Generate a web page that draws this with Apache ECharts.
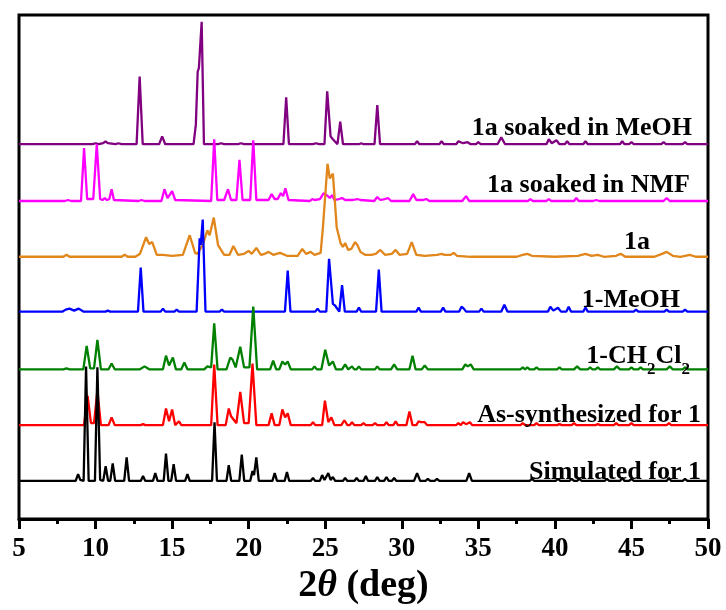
<!DOCTYPE html>
<html>
<head>
<meta charset="utf-8">
<script src="https://cdn.jsdelivr.net/npm/echarts@6/dist/echarts.min.js"></script>
<style>
html,body{margin:0;padding:0;background:#fff;}
#chart{width:726px;height:610px;}
</style>
</head>
<body>
<div id="chart"></div>
<script>
// x tick labels (2θ, deg)
const xTicks = [5, 10, 15, 20, 25, 30, 35, 40, 45, 50];

// series names (top to bottom)
const seriesNames = ['1a soaked in MeOH', '1a soaked in NMF', '1a', '1-MeOH', '1-CH2Cl2', 'As-synthesized for 1', 'Simulated for 1'];
const seriesColors = ['#800080', '#FF00FF', '#E0861B', '#0000FF', '#008000', '#FF0000', '#000000'];
// vertical offset of each pattern's baseline (same intensity units as the data)
const offsets = [383, 325, 268, 212, 153, 96, 39];

// [2θ, intensity above baseline]
const soakedMeOH = [[5,0],[9.8,0],[10.0,1],[10.2,0],[10.5,1],[10.65,3],[10.8,1],[11.3,0],[11.5,1],[11.7,0],[12.68,0],[12.88,69],[13.08,0],[14.15,0],[14.35,8],[14.55,0],[16.4,0],[16.55,20],[16.67,74],[16.75,78],[16.93,125],[17.08,0],[18.0,0],[18.2,1],[18.4,0],[19.3,0],[19.5,1],[19.7,0],[22.27,0],[22.45,48],[22.63,0],[24.2,0],[24.4,1],[24.6,0],[24.95,0],[25.13,54],[25.35,8],[25.5,5],[25.8,0],[25.98,23],[26.16,0],[27.2,0],[27.35,1],[27.5,0],[28.22,0],[28.4,40],[28.58,0],[30.85,0],[31.0,3],[31.15,0],[32.45,0],[32.6,3],[32.75,0],[33.55,0],[33.7,3],[33.8,4],[34.0,1],[34.3,2],[34.5,0],[34.85,0],[35.0,2],[35.15,0],[36.25,0],[36.5,7],[36.75,0],[39.45,0],[39.6,5],[39.8,1],[40.1,4],[40.3,0],[40.65,0],[40.8,3],[40.95,0],[41.85,0],[42.0,3],[42.15,0],[44.25,0],[44.4,3],[44.55,0],[44.85,0],[45.0,2],[45.15,0],[46.95,0],[47.1,2],[47.25,0],[48.35,0],[48.5,2],[48.65,0],[50,0]];

const soakedNMF = [[5,0],[8.0,0],[8.2,1],[8.4,0],[9.05,0],[9.25,54],[9.45,2],[9.85,2],[10.08,58],[10.3,2],[10.45,1],[10.6,3],[10.75,1],[10.9,2],[11.05,12],[11.2,1],[12.8,0],[13.0,1],[13.2,0],[14.3,0],[14.5,12],[14.7,3],[15.0,10],[15.2,1],[17.55,0],[17.75,63],[17.95,1],[18.4,1],[18.65,12],[18.85,1],[19.2,1],[19.4,42],[19.6,1],[20.1,1],[20.3,62],[20.5,1],[21.3,1],[21.5,7],[21.7,2],[21.9,2],[22.1,8],[22.25,5],[22.4,13],[22.6,1],[24.0,0],[24.15,2],[24.3,1],[24.65,2],[24.9,8],[25.1,6],[25.3,3],[25.45,6],[25.6,1],[25.9,2],[26.1,3],[26.3,1],[26.8,1],[27.1,2],[27.3,1],[28.2,0],[28.4,4],[28.6,1],[28.9,2],[29.1,3],[29.3,0],[30.5,0],[30.75,7],[30.95,1],[31.4,1],[31.6,2],[31.8,0],[33.95,0],[34.2,5],[34.4,0],[38.25,0],[38.4,2],[38.55,0],[39.45,0],[39.6,2],[39.75,0],[41.25,0],[41.4,3],[41.55,0],[42.5,0],[42.7,1],[42.9,0],[47.1,0],[47.3,3],[47.5,0],[50,0]];

const activated1a = [[5,0],[7.9,0],[8.1,2],[8.3,0],[11.7,0],[11.9,2],[12.1,0],[12.6,0],[12.9,3],[13.3,20],[13.5,13],[13.7,15],[14.0,2],[14.4,2],[15.0,1],[15.7,2],[16.15,22],[16.5,4],[16.65,3],[17.0,12],[17.3,27],[17.45,22],[17.72,40],[18.0,12],[18.4,2],[18.75,2],[19.0,11],[19.3,2],[19.7,3],[20.0,6],[20.2,3],[20.5,9],[20.8,2],[21.05,3],[21.3,5],[21.6,2],[22.05,4],[22.5,1],[23.2,1],[23.5,8],[23.75,3],[24.05,5],[24.3,2],[24.7,4],[24.85,30],[25.15,95],[25.3,80],[25.5,85],[25.75,30],[26.0,14],[26.15,10],[26.3,14],[26.5,7],[26.7,8],[26.95,15],[27.1,12],[27.3,5],[27.6,2],[28.0,2],[28.3,3],[28.6,7],[28.9,2],[29.35,3],[29.6,7],[29.85,2],[30.35,3],[30.65,15],[30.95,2],[31.5,1],[32.3,2],[32.6,3],[32.8,2],[33.2,2],[33.4,4],[33.6,1],[34.5,0],[37.5,0],[37.9,2],[38.2,3],[38.5,1],[40.0,0],[41.5,1],[42.0,3],[42.4,1],[42.8,2],[43.2,0],[44.0,1],[44.3,3],[44.6,0],[46.5,0],[47.0,3],[47.3,5],[47.7,1],[48.2,0],[48.8,2],[49.2,0],[50,0]];

const meoh1 = [[5,0],[7.85,0],[8.05,2],[8.3,3],[8.6,1],[8.9,3],[9.2,0],[10.65,0],[10.8,1],[10.95,0],[12.77,0],[12.95,45],[13.13,0],[14.25,0],[14.4,3],[14.55,0],[15.15,0],[15.3,2],[15.45,0],[16.6,0],[16.8,75],[16.87,68],[17.0,94],[17.18,0],[18.1,0],[18.25,2],[18.4,0],[22.37,0],[22.55,42],[22.73,0],[24.35,0],[24.5,3],[24.65,0],[25.07,0],[25.25,54],[25.5,8],[25.65,6],[25.92,0],[26.1,27],[26.28,0],[27.05,0],[27.2,4],[27.35,0],[28.32,0],[28.5,43],[28.68,0],[30.95,0],[31.1,4],[31.25,0],[32.55,0],[32.7,4],[32.85,0],[33.75,0],[33.9,5],[34.05,3],[34.2,0],[35.05,0],[35.2,3],[35.35,0],[36.5,0],[36.7,7],[36.9,0],[39.55,0],[39.7,5],[39.9,1],[40.2,4],[40.4,0],[40.75,0],[40.9,5],[41.05,0],[41.85,0],[42.0,4],[42.15,0],[45.15,0],[45.3,2],[45.45,0],[47.15,0],[47.3,2],[47.45,0],[48.35,0],[48.5,2],[48.65,0],[50,0]];

const ch2cl2 = [[5,0],[7.9,0],[8.1,1],[8.3,0],[9.2,0],[9.42,24],[9.65,1],[9.9,1],[10.12,30],[10.35,0],[10.85,0],[11.05,6],[11.25,0],[12.9,0],[13.2,3],[13.5,0],[14.4,0],[14.6,14],[14.8,4],[15.05,12],[15.25,0],[15.6,0],[15.8,7],[16.0,0],[17.1,0],[17.3,3],[17.55,2],[17.75,47],[17.97,0],[18.55,0],[18.8,12],[18.95,10],[19.15,2],[19.45,23],[19.7,2],[20.05,2],[20.3,64],[20.55,0],[21.4,0],[21.6,9],[21.8,0],[22.0,0],[22.2,8],[22.38,5],[22.55,8],[22.75,0],[24.15,0],[24.3,3],[24.45,0],[24.75,0],[25.0,20],[25.25,4],[25.5,8],[25.7,0],[26.1,0],[26.3,5],[26.5,0],[26.6,0],[26.75,3],[26.9,0],[27.05,0],[27.2,3],[27.35,0],[28.25,0],[28.4,3],[28.55,0],[29.3,0],[29.5,5],[29.7,0],[30.5,0],[30.7,14],[30.9,0],[31.3,0],[31.5,4],[31.7,0],[33.95,0],[34.15,5],[34.3,3],[34.5,5],[34.7,0],[37.75,0],[37.9,2],[38.05,0],[38.2,2],[38.35,0],[38.65,0],[38.8,2],[38.95,0],[40.15,0],[40.3,2],[40.45,0],[41.25,0],[41.45,3],[41.65,0],[42.15,0],[42.3,2],[42.45,0],[42.65,0],[42.8,2],[42.95,0],[43.85,0],[44.05,3],[44.25,0],[44.85,0],[45.0,2],[45.15,0],[45.45,0],[45.6,2],[45.75,0],[47.3,0],[47.5,3],[47.7,0],[48.35,0],[48.5,2],[48.65,0],[50,0]];

const asSynth = [[5,0],[9.25,0],[9.48,30],[9.7,2],[9.9,2],[10.12,35],[10.35,0],[10.85,0],[11.05,8],[11.25,0],[12.95,0],[13.1,1],[13.25,0],[14.4,0],[14.6,17],[14.8,4],[15.0,16],[15.2,0],[15.3,0],[15.45,4],[15.6,0],[17.55,0],[17.75,62],[17.97,0],[18.5,0],[18.7,17],[18.85,9],[18.95,10],[19.2,2],[19.45,34],[19.7,2],[20.0,2],[20.25,63],[20.5,0],[21.3,0],[21.5,12],[21.7,0],[22.0,0],[22.2,16],[22.38,8],[22.55,12],[22.75,0],[24.05,0],[24.2,3],[24.35,0],[24.8,0],[24.98,25],[25.2,3],[25.4,8],[25.6,0],[26.05,0],[26.25,5],[26.45,0],[26.6,0],[26.75,3],[26.9,0],[27.35,0],[27.5,2],[27.65,0],[28.1,0],[28.25,2],[28.4,0],[28.85,0],[29.0,3],[29.15,0],[29.45,0],[29.6,4],[29.75,0],[30.3,0],[30.5,14],[30.7,0],[30.95,0],[31.1,4],[31.25,3],[31.5,3],[31.65,0],[33.55,0],[33.7,2],[33.85,0],[33.9,0],[34.0,3],[34.2,1],[34.45,3],[34.6,0],[37.75,0],[37.9,2],[38.05,0],[38.65,0],[38.8,2],[38.95,0],[40.15,0],[40.3,1],[40.45,0],[41.1,0],[41.25,2],[41.4,0],[42.65,0],[42.8,1],[42.95,0],[43.85,0],[44.0,2],[44.15,0],[44.85,0],[45.0,2],[45.15,0],[47.3,0],[47.45,2],[47.6,0],[50,0]];

const simulated = [[5,0],[8.7,0],[8.86,7],[9.0,1],[9.22,0],[9.38,117],[9.55,0],[9.96,0],[10.12,116],[10.3,1],[10.5,0],[10.66,15],[10.82,0],[10.96,0],[11.12,18],[11.28,0],[11.87,0],[12.03,24],[12.19,0],[12.95,0],[13.1,5],[13.25,0],[13.75,0],[13.9,8],[14.05,0],[14.45,0],[14.6,28],[14.76,0],[14.94,0],[15.1,17],[15.26,0],[15.85,0],[16.0,7],[16.15,0],[16.9,0],[17.0,2],[17.1,0],[17.61,0],[17.77,60],[17.93,0],[18.55,0],[18.7,16],[18.86,0],[19.39,0],[19.55,27],[19.71,0],[20.1,0],[20.25,10],[20.35,6],[20.5,24],[20.66,0],[21.55,0],[21.7,8],[21.85,0],[22.35,0],[22.5,9],[22.65,0],[24.05,0],[24.2,3],[24.35,0],[24.65,0],[24.8,6],[24.95,1],[25.2,8],[25.35,1],[25.5,4],[25.65,0],[26.15,0],[26.3,3],[26.45,0],[26.9,0],[27.05,3],[27.2,0],[27.5,0],[27.65,5],[27.8,0],[28.25,0],[28.4,4],[28.55,0],[28.85,0],[29.0,4],[29.15,0],[29.35,0],[29.5,3],[29.65,0],[30.8,0],[31.0,8],[31.2,0],[31.55,0],[31.7,2],[31.85,0],[32.15,0],[32.3,2],[32.45,0],[34.22,0],[34.4,8],[34.58,0],[38.35,0],[38.5,2],[38.65,0],[40.05,0],[40.2,2],[40.35,0],[40.95,0],[41.1,2],[41.25,0],[41.45,0],[41.6,2],[41.75,0],[43.25,0],[43.4,2],[43.55,0],[44.25,0],[44.4,3],[44.55,0],[44.85,0],[45.0,2],[45.15,0],[47.3,0],[47.45,3],[47.6,0],[48.35,0],[48.5,2],[48.65,0],[50,0]];

const patterns = [soakedMeOH, soakedNMF, activated1a, meoh1, ch2cl2, asSynth, simulated];

// ---------- build chart ----------
const FONT = '"Liberation Serif", "Times New Roman", serif';
const chart = echarts.init(document.getElementById('chart'), null, {renderer: 'canvas'});

const series = patterns.map((pts, i) => ({
  name: seriesNames[i],
  type: 'line',
  data: pts.map(p => [p[0], p[1] + offsets[i]]),
  showSymbol: false,
  symbol: 'none',
  lineStyle: {color: seriesColors[i], width: 2.3},
  itemStyle: {color: seriesColors[i]},
  z: 2 + i,
  animation: false
}));

// label positions (pixel layout)
const labelLayout = [
  {x: 692, y: 128}, {x: 690, y: 185}, {x: 650, y: 242}, {x: 680, y: 300},
  {x: 690, y: 361}, {x: 701, y: 415}, {x: 701, y: 472}
];
const labelFont = 'bold 26px ' + FONT;
const graphics = seriesNames.map((name, i) => {
  if (name === '1-CH2Cl2') {
    return {
      type: 'text', x: labelLayout[i].x, y: labelLayout[i].y, z: 100,
      style: {
        text: '{n|1-CH}{s|2}{n|Cl}{s|2}',
        align: 'right', verticalAlign: 'middle',
        fill: '#000',
        rich: {
          n: {fontFamily: FONT, fontWeight: 'bold', fontSize: 26, fill: '#000', color: '#000', padding: [0, 0, 9, 0], verticalAlign: 'bottom'},
          s: {fontFamily: FONT, fontWeight: 'bold', fontSize: 17, fill: '#000', color: '#000', verticalAlign: 'bottom'}
        }
      }
    };
  }
  return {
    type: 'text', x: labelLayout[i].x, y: labelLayout[i].y, z: 100,
    style: {text: name, font: labelFont, fill: '#000', align: 'right', verticalAlign: 'middle'}
  };
});

chart.setOption({
  animation: false,
  backgroundColor: '#fff',
  grid: {left: 19, right: 18, top: 15, bottom: 80, show: true, borderColor: '#000', borderWidth: 3, backgroundColor: 'transparent', containLabel: false},
  xAxis: {
    type: 'value', min: xTicks[0], max: xTicks[xTicks.length - 1], interval: 5,
    axisLine: {show: true, onZero: false, lineStyle: {color: '#000', width: 3}},
    axisTick: {show: true, inside: false, length: 10, lineStyle: {color: '#000', width: 3}},
    minorTick: {show: true, splitNumber: 2, length: 5, lineStyle: {color: '#000', width: 3}},
    splitLine: {show: false},
    axisLabel: {color: '#000', fontFamily: FONT, fontWeight: 'bold', fontSize: 27, margin: 16,
      formatter: v => xTicks.indexOf(v) >= 0 ? String(v) : ''},
    name: '{a|2}{b|θ}{a| (deg)}',
    nameLocation: 'middle', nameGap: 38,
    nameTextStyle: {
      rich: {
        a: {fontFamily: FONT, fontWeight: 'bold', fontSize: 38, color: '#000'},
        b: {fontFamily: FONT, fontWeight: 'bold', fontStyle: 'italic', fontSize: 38, color: '#000'}
      }
    }
  },
  yAxis: {type: 'value', min: 0, max: 515, show: false},
  series: series,
  graphic: graphics
});
</script>
</body>
</html>
